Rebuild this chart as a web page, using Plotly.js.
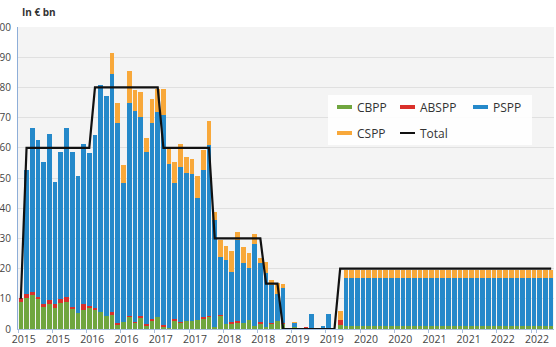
<!DOCTYPE html>
<html>
<head>
<meta charset="utf-8">
<script src="https://cdn.plot.ly/plotly-3.0.1.min.js"></script>
<style>
  html, body { margin: 0; padding: 0; background: #ffffff; }
  #chart { width: 556px; height: 347px; }
</style>
</head>
<body>
<div id="chart"></div>
<script>
// Monthly net purchases under the asset purchase programme, € bn
const months = [
  '2015-02','2015-03','2015-04','2015-05','2015-06','2015-07','2015-08','2015-09','2015-10','2015-11','2015-12',
  '2016-01','2016-02','2016-03','2016-04','2016-05','2016-06','2016-07','2016-08','2016-09','2016-10','2016-11','2016-12',
  '2017-01','2017-02','2017-03','2017-04','2017-05','2017-06','2017-07','2017-08','2017-09','2017-10','2017-11','2017-12',
  '2018-01','2018-02','2018-03','2018-04','2018-05','2018-06','2018-07','2018-08','2018-09','2018-10','2018-11','2018-12',
  '2019-01','2019-02','2019-03','2019-04','2019-05','2019-06','2019-07','2019-08','2019-09','2019-10','2019-11','2019-12',
  '2020-01','2020-02','2020-03','2020-04','2020-05','2020-06','2020-07','2020-08','2020-09','2020-10','2020-11','2020-12',
  '2021-01','2021-02','2021-03','2021-04','2021-05','2021-06','2021-07','2021-08','2021-09','2021-10','2021-11','2021-12',
  '2022-01','2022-02','2022-03','2022-04','2022-05','2022-06','2022-07','2022-08','2022-09','2022-10','2022-11'
];

const tickMonths = ['2015-02','2015-08','2016-02','2016-08','2017-02','2017-08','2018-02','2018-08',
                    '2019-02','2019-08','2020-02','2020-08','2021-02','2021-08','2022-02','2022-08'];
const tickYears  = ['2015','2015','2016','2016','2017','2017','2018','2018',
                    '2019','2019','2020','2020','2021','2021','2022','2022'];

const cbpp = [
  9.0,10.4,11.3,9.8,7.2,8.2,7.0,8.5,9.0,6.5,
  5.2,6.3,6.8,6.3,5.7,4.3,4.6,1.3,2.4,3.9,
  1.9,3.5,1.0,2.7,4.1,0.8,0.3,2.6,2.1,2.7,
  2.6,3.0,3.3,4.0,0.8,4.2,1.5,1.8,2.0,2.0,
  3.0,1.0,1.8,0.5,1.7,2.5,1.6,0,0.5,0,
  0.2,0.3,0,0.2,0.3,0,1.2,
  1.0,1.0,1.0,1.0,1.0,1.0,1.0,1.0,1.0,1.0,
  1.0,1.0,1.0,1.0,1.0,1.0,1.0,1.0,1.0,1.0,
  1.0,1.0,1.0,1.0,1.0,1.0,1.0,1.0,1.0,1.0,
  1.0,1.0,1.0,1.0,1.0,1.0,1.0
];

const abspp = [
  1.2,1.2,1.1,0.9,1.2,1.4,1.2,1.6,1.7,0.7,
  0,1.9,0.8,0.5,0,0,1.1,0.6,0,0.5,
  0.5,0.8,0.6,0.6,0,0.5,0,0.6,0.3,0,
  0,0,0.8,0.3,0,0.6,0,0.6,0.8,0,
  0,0,0.5,0,0.4,0,0.3,0,0,0,
  0.5,0,0,0,0,0,1.8,
  0.1,0.1,0.1,0.1,0.1,0.1,0.1,0.1,0.1,0.1,
  0.1,0.1,0.1,0.1,0.1,0.1,0.1,0.1,0.1,0.1,
  0.1,0.1,0.1,0.1,0.1,0.1,0.1,0.1,0.1,0.1,
  0.1,0.1,0.1,0.1,0.1,0.1,0.1
];

const pspp = [
  0,41.0,54.3,51.8,46.9,55.1,40.5,48.5,56.0,51.4,
  45.5,52.9,50.8,57.4,75.0,72.9,78.9,66.4,45.8,70.5,
  69.8,65.9,57.1,65.0,67.8,69.5,54.3,45.2,51.1,49.1,
  48.6,40.4,48.7,56.6,35.3,18.9,21.5,16.6,26.6,19.9,
  17.3,27.3,19.4,17.9,12.4,9.0,11.6,0,1.4,0,
  0,4.7,0,0.8,4.7,0,0,
  15.7,15.7,15.7,15.7,15.7,15.7,15.7,15.7,15.7,15.7,
  15.7,15.7,15.7,15.7,15.7,15.7,15.7,15.7,15.7,15.7,
  15.7,15.7,15.7,15.7,15.7,15.7,15.7,15.7,15.7,15.7,
  15.7,15.7,15.7,15.7,15.7,15.7,15.7
];

const cspp = [
  0,0,0,0,0,0,0,0,0,0,
  0,0,0,0,0,0,6.8,6.4,6.1,10.4,
  7.1,8.3,4.7,7.7,7.7,8.8,5.2,6.9,7.9,5.2,
  5.0,7.3,6.6,8.0,2.5,5.7,4.5,6.9,2.8,5.3,
  4.9,3.1,1.7,3.9,1.7,3.6,1.4,0,0.5,0,
  0,0,0,0,0,0,3.0,
  2.7,2.7,2.7,2.7,2.7,2.7,2.7,2.7,2.7,2.7,
  2.7,2.7,2.7,2.7,2.7,2.7,2.7,2.7,2.7,2.7,
  2.7,2.7,2.7,2.7,2.7,2.7,2.7,2.7,2.7,2.7,
  2.7,2.7,2.7,2.7,2.7,2.7,2.7
];

// Announced monthly pace
const total = [
  10,
  60,60,60,60,60,60,60,60,60,60,60,60,
  80,80,80,80,80,80,80,80,80,80,80,80,
  60,60,60,60,60,60,60,60,60,
  30,30,30,30,30,30,30,30,30,
  15,15,15,
  0,0,0,0,0,0,0,0,0,0,
  20,20,20,20,20,20,20,20,20,20,
  20,20,20,20,20,20,20,20,20,20,
  20,20,20,20,20,20,20,20,20,20,
  20,20,20,20,20,20,20,20
];

const series = [
  { name: 'CBPP',  values: cbpp,  color: '#70A63F' },
  { name: 'ABSPP', values: abspp, color: '#D9302A' },
  { name: 'PSPP',  values: pspp,  color: '#2589CA' },
  { name: 'CSPP',  values: cspp,  color: '#F8A83A' }
];
const totalColor = '#111111';

// Page geometry (pixels) used to place the legend box and heading
const W = 556, H = 347;
const M = { l: 18, r: 2, t: 27, b: 18 };
const pw = W - M.l - M.r, ph = H - M.t - M.b;
const px = x => (x - M.l) / pw;
const py = y => (H - M.b - y) / ph;

const traces = series.map(s => ({
  type: 'bar',
  name: s.name,
  x: months,
  y: s.values,
  marker: { color: s.color, line: { width: 0 } },
  showlegend: false,
  hoverinfo: 'x+y+name'
}));
traces.push({
  type: 'scatter',
  mode: 'lines',
  name: 'Total',
  x: months,
  y: total,
  line: { color: totalColor, width: 2.2 },
  showlegend: false
});

// Legend drawn as a boxed two-row key
const legendRows = [
  [{ name: 'CBPP', color: series[0].color, sx: 337, tx: 355 },
   { name: 'ABSPP', color: series[1].color, sx: 400, tx: 418 },
   { name: 'PSPP', color: series[2].color, sx: 473, tx: 491 }],
  [{ name: 'CSPP', color: series[3].color, sx: 337, tx: 355 },
   { name: 'Total', color: totalColor, sx: 400, tx: 418, thin: true }]
];
const rowY = [107, 133];

const shapes = [{
  type: 'rect', xref: 'paper', yref: 'paper', layer: 'above',
  x0: px(328), x1: px(532), y0: py(145), y1: py(95),
  fillcolor: 'rgba(255,255,255,0.88)', line: { width: 0 }
}];
const annotations = [{
  xref: 'paper', yref: 'paper', x: px(20), y: py(12),
  xanchor: 'left', yanchor: 'middle', showarrow: false,
  text: '<b>In € bn</b>',
  font: { family: 'Open Sans, sans-serif', size: 10, color: '#333333' }
}];
legendRows.forEach((row, r) => {
  row.forEach(item => {
    shapes.push({
      type: 'line', xref: 'paper', yref: 'paper', layer: 'above',
      x0: px(item.sx), x1: px(item.sx + 15), y0: py(rowY[r]), y1: py(rowY[r]),
      line: { color: item.color, width: item.thin ? 2 : 4 }
    });
    annotations.push({
      xref: 'paper', yref: 'paper', x: px(item.tx), y: py(rowY[r]),
      xanchor: 'left', yanchor: 'middle', showarrow: false,
      text: item.name,
      font: { family: 'Open Sans, sans-serif', size: 12, color: '#333333' }
    });
  });
});

const layout = {
  width: W, height: H,
  margin: M,
  paper_bgcolor: '#ffffff',
  plot_bgcolor: '#f4f4f4',
  barmode: 'stack',
  bargap: 0.18,
  showlegend: false,
  font: { family: 'Open Sans, sans-serif', size: 10.5, color: '#444444' },
  xaxis: {
    type: 'category',
    tickmode: 'array',
    tickvals: tickMonths,
    ticktext: tickYears,
    tickson: 'boundaries',
    ticks: 'outside', ticklen: 3, tickcolor: '#a7bedc', tickwidth: 1,
    ticklabelshift: 3,
    showline: true, linecolor: '#a7bedc', linewidth: 1,
    showgrid: false, zeroline: false,
    tickangle: 0,
    tickfont: { size: 10.5, color: '#444444' }
  },
  yaxis: {
    range: [0, 100],
    tickmode: 'linear', tick0: 0, dtick: 10,
    showline: true, linecolor: '#8eaed8', linewidth: 1,
    showgrid: true, gridcolor: '#e0e0e0', gridwidth: 1,
    zeroline: false,
    ticks: '', ticklabelstandoff: 4,
    tickfont: { size: 10, color: '#444444' }
  },
  shapes: shapes,
  annotations: annotations
};

Plotly.newPlot('chart', traces, layout, { staticPlot: true, displayModeBar: false });
</script>
</body>
</html>
